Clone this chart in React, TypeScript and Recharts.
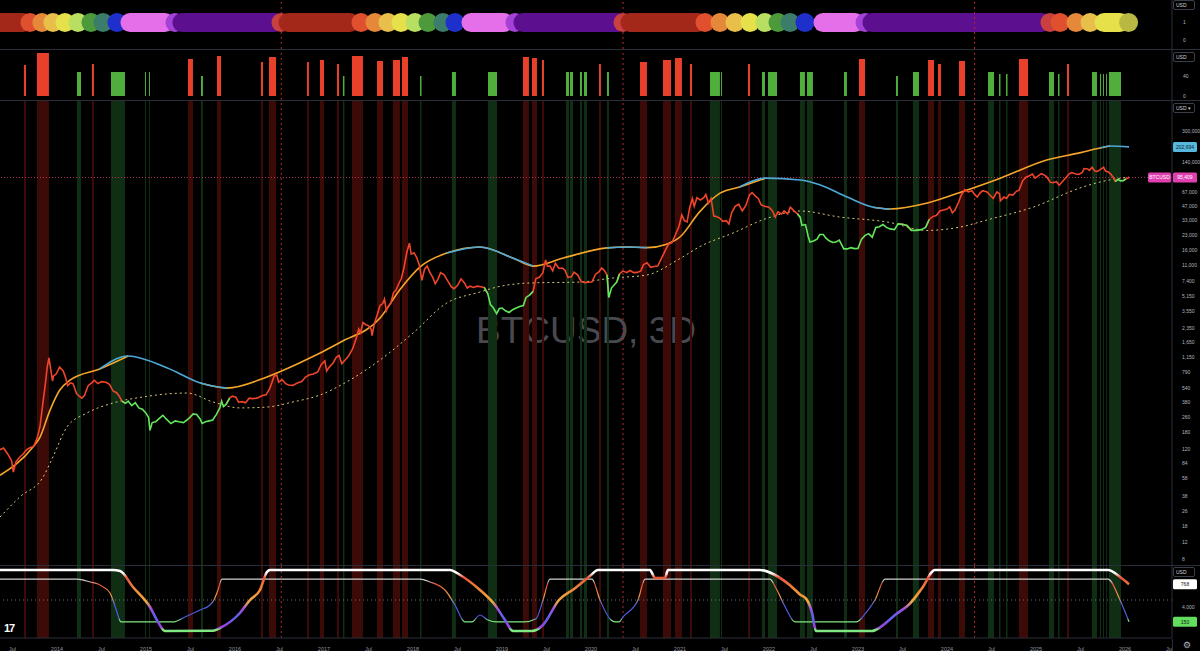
import React from "react";
import { ComposedChart, Line, XAxis, YAxis, ReferenceArea, ReferenceLine } from "recharts";

const X0 = 2013.36;
const X1 = 2026.528;
const FONT = "'Liberation Sans', Arial, sans-serif";

// BTCUSD 3D close (year, usd)
const btcClose: [number, number][] = [
  [2013.36,118],[2013.40,123],[2013.45,105],[2013.49,90],[2013.51,68],[2013.54,88],[2013.58,98],[2013.62,106],[2013.66,118],[2013.70,125],[2013.74,128],[2013.78,160],[2013.81,210],[2013.84,360],[2013.87,600],[2013.89,900],[2013.91,1130],[2013.93,850],[2013.95,640],[2013.96,720],[2013.99,760],
  [2014.03,900],[2014.07,820],[2014.10,680],[2014.12,570],[2014.15,610],[2014.18,600],[2014.22,470],[2014.25,440],[2014.28,420],[2014.31,450],[2014.35,570],[2014.39,610],[2014.42,650],[2014.46,600],[2014.50,630],[2014.55,620],[2014.59,590],[2014.63,500],[2014.67,480],[2014.70,440],[2014.73,390],[2014.77,370],[2014.80,390],[2014.84,350],[2014.88,375],[2014.92,330],[2014.96,320],
  [2015.00,290],[2015.03,260],[2015.045,190],[2015.07,230],[2015.11,235],[2015.15,255],[2015.19,275],[2015.23,250],[2015.28,225],[2015.33,240],[2015.37,235],[2015.42,230],[2015.46,245],[2015.50,265],[2015.53,285],[2015.57,280],[2015.61,250],[2015.63,225],[2015.67,235],[2015.71,240],[2015.75,245],[2015.79,280],[2015.83,330],[2015.85,390],[2015.87,340],[2015.90,360],[2015.94,420],[2015.97,440],
  [2016.01,430],[2016.04,380],[2016.08,385],[2016.12,375],[2016.16,420],[2016.20,415],[2016.25,420],[2016.30,445],[2016.35,455],[2016.39,530],[2016.44,720],[2016.47,740],[2016.49,620],[2016.53,660],[2016.57,600],[2016.60,580],[2016.65,575],[2016.70,610],[2016.75,630],[2016.79,700],[2016.83,740],[2016.88,760],[2016.93,800],[2016.97,960],
  [2017.01,1050],[2017.03,820],[2017.06,900],[2017.10,990],[2017.14,1150],[2017.17,1200],[2017.20,980],[2017.24,1080],[2017.28,1200],[2017.32,1400],[2017.36,1800],[2017.39,2300],[2017.41,2100],[2017.44,2700],[2017.47,2550],[2017.50,2500],[2017.53,2300],[2017.54,1950],[2017.57,2700],[2017.60,3300],[2017.63,4100],[2017.66,4300],[2017.68,4800],[2017.70,3600],[2017.72,4000],[2017.75,4300],[2017.78,5600],[2017.81,6000],[2017.84,7000],[2017.87,8000],[2017.90,10500],[2017.93,15000],[2017.96,19000],[2017.98,14500],
  [2018.01,15000],[2018.04,13500],[2018.07,11200],[2018.10,7600],[2018.13,10000],[2018.16,10800],[2018.19,9200],[2018.22,8300],[2018.25,7000],[2018.28,7800],[2018.31,9200],[2018.35,8700],[2018.39,7500],[2018.43,6500],[2018.46,6200],[2018.50,6700],[2018.54,7900],[2018.58,7100],[2018.61,6300],[2018.64,6600],[2018.68,6400],[2018.72,6600],[2018.76,6500],[2018.80,6400],[2018.84,5500],[2018.87,4200],[2018.90,3900],[2018.94,3350],[2018.97,3800],
  [2019.00,3850],[2019.04,3600],[2019.08,3450],[2019.12,3700],[2019.16,3850],[2019.20,4000],[2019.24,4100],[2019.27,5000],[2019.31,5300],[2019.35,5800],[2019.38,7900],[2019.42,8200],[2019.46,9200],[2019.49,12600],[2019.51,10800],[2019.54,10800],[2019.57,9600],[2019.60,11600],[2019.64,10200],[2019.68,10300],[2019.71,9700],[2019.74,8200],[2019.78,8300],[2019.81,9300],[2019.85,8700],[2019.89,7400],[2019.93,7200],[2019.97,7250],
  [2020.01,7300],[2020.05,8800],[2020.09,9400],[2020.12,10300],[2020.15,9700],[2020.18,8700],[2020.20,5000],[2020.23,6300],[2020.26,6800],[2020.29,7300],[2020.32,8900],[2020.36,9600],[2020.40,9200],[2020.44,9700],[2020.48,9200],[2020.52,9250],[2020.56,9600],[2020.59,11200],[2020.63,11700],[2020.67,10500],[2020.71,10700],[2020.75,10800],[2020.79,13000],[2020.83,15500],[2020.87,18500],[2020.91,19200],[2020.95,23500],[2020.99,29000],
  [2021.02,38000],[2021.05,33000],[2021.08,32000],[2021.11,46000],[2021.14,57000],[2021.16,47000],[2021.19,58000],[2021.23,55000],[2021.27,58500],[2021.29,63000],[2021.32,51000],[2021.35,57000],[2021.38,37000],[2021.41,36500],[2021.45,35000],[2021.48,32500],[2021.52,33000],[2021.55,30500],[2021.58,40000],[2021.62,47000],[2021.66,49500],[2021.70,42000],[2021.74,48000],[2021.78,62000],[2021.81,66000],[2021.85,60000],[2021.88,57000],[2021.91,49000],[2021.95,47000],
  [2022.00,46000],[2022.04,42000],[2022.07,36000],[2022.10,41000],[2022.14,39000],[2022.17,42000],[2022.21,39000],[2022.24,46000],[2022.28,42000],[2022.32,39000],[2022.35,36000],[2022.37,29500],[2022.41,30000],[2022.44,22500],[2022.46,19500],[2022.50,20000],[2022.54,21000],[2022.57,23500],[2022.61,23500],[2022.64,21500],[2022.68,20000],[2022.72,19300],[2022.75,19500],[2022.79,20500],[2022.84,16500],[2022.88,16500],[2022.92,17000],[2022.96,16600],
  [2023.00,16700],[2023.04,21000],[2023.08,23000],[2023.12,24000],[2023.16,22000],[2023.20,28000],[2023.24,28500],[2023.28,30000],[2023.32,28000],[2023.36,27000],[2023.41,26500],[2023.45,30500],[2023.50,30200],[2023.55,29300],[2023.60,26000],[2023.66,26000],[2023.71,26500],[2023.76,28000],[2023.80,34000],[2023.84,36500],[2023.88,37500],[2023.92,42000],[2023.96,43000],
  [2024.00,44000],[2024.03,46500],[2024.06,40000],[2024.09,43000],[2024.13,52000],[2024.16,62000],[2024.20,71000],[2024.24,67000],[2024.28,69000],[2024.31,63000],[2024.34,59000],[2024.37,65000],[2024.40,69000],[2024.45,67000],[2024.49,61000],[2024.52,57000],[2024.56,67000],[2024.59,64000],[2024.60,54000],[2024.64,59000],[2024.67,57000],[2024.70,63000],[2024.74,62000],[2024.78,68000],[2024.81,70000],[2024.85,88000],[2024.89,97000],[2024.92,99000],[2024.96,104000],[2024.99,94000],
  [2025.02,99000],[2025.06,105000],[2025.09,102000],[2025.12,97000],[2025.16,85000],[2025.19,84000],[2025.23,86000],[2025.26,79000],[2025.29,85000],[2025.33,94000],[2025.37,104000],[2025.40,108000],[2025.44,105000],[2025.48,103000],[2025.52,108000],[2025.54,119000],[2025.58,118000],[2025.60,114000],[2025.63,123000],[2025.66,112000],[2025.69,111000],[2025.72,116000],[2025.76,123000],[2025.78,112000],[2025.81,110000],[2025.84,104000],[2025.87,95000],[2025.89,87000],[2025.92,91000],[2025.95,88000],[2025.98,88500],[2026.01,92000],[2026.045,95409],
];

// periods where the price line is drawn green
const greenRanges: [number, number][] = [
  [2014.74, 2015.9], [2018.83, 2019.33], [2020.19, 2020.29], [2022.34, 2023.45], [2023.59, 2023.76], [2025.91, 2026.0],
];

// long moving average (orange rising / blue falling)
const maLine: [number, number][] = [
  [2013.36,63],[2013.73,126],[2013.81,161],[2013.92,309],[2014.03,510],[2014.15,656],[2014.48,859],[2014.80,1183],
  [2015.24,880],[2015.61,609],[2015.91,537],[2016.36,706],[2016.73,1000],[2017.18,1650],[2017.63,3010],[2017.85,6000],
  [2018.08,10600],[2018.38,14900],[2018.75,17300],[2019.12,13200],[2019.35,10800],[2019.69,13200],[2020.18,16900],
  [2020.40,17300],[2020.63,17000],[2020.85,18500],[2021.0,22100],[2021.22,41000],[2021.45,65000],[2021.67,75700],
  [2021.96,94000],[2022.35,90000],[2022.57,80000],[2022.88,59000],[2023.17,46000],[2023.36,44000],[2023.78,51000],
  [2024.22,70000],[2024.60,94000],[2025.12,147000],[2025.49,175000],[2025.72,197000],[2025.83,207000],[2026.045,202694],
];

// dashed lower band
const lowBand: [number, number][] = [
  [2013.36,22.5],[2013.584,37],[2013.843,60],[2013.955,99],[2014.112,206],[2014.337,291],[2014.629,372],[2014.966,432],
  [2015.461,476],[2015.753,382],[2016.056,330],[2016.36,337],[2016.652,382],[2016.955,453],[2017.292,656],[2017.629,1070],
  [2018.0,2080],[2018.382,4370],[2018.753,5710],[2018.944,6460],[2019.315,7130],[2019.876,7300],[2020.247,8060],
  [2020.629,8690],[2021.0,13000],[2021.225,17500],[2021.596,24400],[2021.978,35000],[2022.348,41900],[2022.798,36100],
  [2023.326,32000],[2023.775,26000],[2024.146,28200],[2024.449,33600],[2024.966,46000],[2025.494,73800],[2025.719,85500],[2026.045,96600],
];

// signal events: start, end, kind, histogram height
const events: [number, number, string, number][] = [
  [2013.629,2013.652,"r",62],[2013.775,2013.910,"r",86],[2014.225,2014.270,"g",48],[2014.393,2014.416,"r",64],
  [2014.607,2014.764,"g",48],[2014.989,2015.000,"g",48],[2015.034,2015.045,"g",48],[2015.472,2015.528,"r",74],
  [2015.618,2015.640,"g",40],[2015.798,2015.843,"r",80],[2016.292,2016.315,"r",68],[2016.382,2016.461,"r",78],
  [2016.809,2016.831,"r",68],[2016.955,2017.000,"r",72],[2017.146,2017.169,"r",64],[2017.213,2017.230,"g",40],
  [2017.315,2017.438,"r",80],[2017.596,2017.663,"r",70],[2017.775,2017.854,"r",72],[2017.876,2017.944,"r",78],
  [2018.079,2018.096,"g",40],[2018.438,2018.483,"g",48],[2018.843,2018.944,"g",48],[2019.236,2019.303,"r",78],
  [2019.337,2019.393,"r",76],[2019.449,2019.472,"r",72],[2019.719,2019.753,"g",48],[2019.764,2019.798,"g",48],
  [2019.876,2019.899,"g",48],[2019.921,2019.955,"g",48],[2020.090,2020.112,"r",64],[2020.180,2020.202,"g",48],
  [2020.551,2020.629,"r",68],[2020.809,2020.899,"r",72],[2020.944,2021.022,"r",76],[2021.112,2021.135,"r",64],
  [2021.337,2021.449,"g",48],[2021.461,2021.472,"g",48],[2021.764,2021.787,"r",64],[2021.921,2021.955,"g",48],
  [2021.989,2022.090,"g",48],[2022.348,2022.404,"g",48],[2022.427,2022.494,"g",48],[2022.843,2022.876,"g",48],
  [2023.011,2023.079,"r",74],[2023.427,2023.449,"g",40],[2023.618,2023.685,"g",48],[2023.787,2023.854,"r",72],
  [2023.899,2023.933,"r",64],[2024.135,2024.202,"r",70],[2024.461,2024.528,"g",48],[2024.584,2024.601,"g",44],
  [2024.663,2024.680,"g",44],[2024.809,2024.910,"r",74],[2025.146,2025.202,"g",48],[2025.247,2025.264,"g",44],
  [2025.348,2025.371,"r",64],[2025.629,2025.685,"g",48],[2025.719,2025.731,"g",44],[2025.753,2025.764,"g",44],
  [2025.787,2025.798,"g",44],[2025.820,2025.955,"g",48],
];

// cycle phase strip: start, end, colour
const DR = "#a3281a", OR = "#e0502e", ORG = "#e6883a", YO = "#e8bf4a", YEL = "#e6e04a", LG = "#b9df62",
  GR = "#4d9a3c", TE = "#3c7c6a", BL = "#1f2fcc", PK = "#e56fe8", VI = "#a442d8", PU = "#5c0f8e", RC = "#c94040", OL = "#b8b842";
const phases: [number, number, string][] = [
  [2013.25,2013.62,DR],[2013.697,2013.697,OR],[2013.831,2013.831,ORG],[2013.955,2013.955,YO],[2014.09,2014.09,YEL],
  [2014.236,2014.236,LG],[2014.382,2014.382,GR],[2014.517,2014.517,TE],[2014.674,2014.674,BL],[2014.82,2015.213,PK],
  [2015.326,2015.326,VI],[2015.404,2016.449,PU],[2016.517,2016.517,RC],[2016.596,2017.292,DR],
  [2017.416,2017.416,OR],[2017.573,2017.573,ORG],[2017.719,2017.719,YO],[2017.865,2017.865,YEL],[2018.022,2018.022,LG],
  [2018.169,2018.169,GR],[2018.337,2018.337,TE],[2018.472,2018.472,BL],[2018.652,2019.022,PK],[2019.146,2019.146,VI],
  [2019.236,2020.303,PU],[2020.36,2020.36,RC],[2020.438,2021.202,DR],
  [2021.281,2021.281,OR],[2021.449,2021.449,ORG],[2021.618,2021.618,YO],[2021.787,2021.787,YEL],[2021.955,2021.955,LG],
  [2022.101,2022.101,GR],[2022.236,2022.236,TE],[2022.404,2022.404,BL],[2022.607,2022.966,PK],[2023.079,2023.079,VI],
  [2023.157,2025.067,PU],[2025.157,2025.157,RC],[2025.27,2025.27,OR],[2025.449,2025.449,ORG],[2025.607,2025.607,YO],
  [2025.764,2025.944,YEL],[2026.04,2026.04,OL],
];

// oscillator pane: thick and thin lines
const oscThick: [number, number][] = [
  [2013.36,1000],[2014.629,1000],[2014.708,985],[2014.854,721],[2015.045,393],[2015.135,150],[2015.213,0],[2015.753,5],
  [2015.831,49],[2016.056,295],[2016.169,508],[2016.281,672],[2016.36,967],[2016.393,1000],[2018.416,1000],[2018.528,918],
  [2018.753,672],[2018.921,426],[2019.034,180],[2019.124,0],[2019.337,0],[2019.461,98],[2019.64,508],[2019.82,700],
  [2019.989,900],[2020.079,1000],[2020.663,1000],[2020.719,869],[2020.831,869],[2020.865,1000],[2021.899,1000],
  [2022.067,918],[2022.236,750],[2022.348,600],[2022.427,508],[2022.483,300],[2022.528,0],[2023.157,0],[2023.247,60],
  [2023.416,262],[2023.584,450],[2023.719,700],[2023.865,1000],[2025.809,1000],[2025.944,885],[2026.045,768],
];
const oscThin: [number, number][] = [
  [2013.36,852],[2014.225,852],[2014.371,803],[2014.483,754],[2014.596,623],[2014.629,508],[2014.674,311],[2014.719,148],
  [2015.303,148],[2015.438,230],[2015.607,344],[2015.719,426],[2015.764,508],[2015.809,672],[2015.854,852],[2018.079,852],
  [2018.191,803],[2018.36,672],[2018.472,426],[2018.584,148],[2018.663,148],[2018.753,262],[2018.843,180],[2018.944,148],
  [2019.247,148],[2019.382,200],[2019.461,508],[2019.539,852],[2020.011,852],[2020.101,508],[2020.225,180],[2020.27,148],
  [2020.315,148],[2020.36,230],[2020.528,508],[2020.607,852],[2022.011,852],[2022.079,700],[2022.18,400],[2022.292,148],
  [2022.978,148],[2023.09,300],[2023.191,508],[2023.303,852],[2025.809,852],[2025.944,508],[2026.045,150],
];

const halvings = [2016.52, 2020.36, 2024.31];
const priceTicks = [8, 12, 18, 26, 38, 58, 84, 120, 180, 260, 380, 540, 790, 1150, 1650, 2350, 3550, 5150, 7400, 11000, 16000, 23000, 33000, 47000, 67000, 140000, 300000];
const xTicks = [2013.5, 2014, 2014.5, 2015, 2015.5, 2016, 2016.5, 2017, 2017.5, 2018, 2018.5, 2019, 2019.5, 2020, 2020.5, 2021, 2021.5, 2022, 2022.5, 2023, 2023.5, 2024, 2024.5, 2025, 2025.5, 2026, 2026.5];
const oscTicks = [393];
const oscTickText = ["4,000"];

const RED = "#f0452b";
const GREEN = "#62e65c";
const BAND_R = "#3c0b08";
const BAND_G = "#0f2e14";
const ZERO = { top: 0, right: 0, bottom: 0, left: 0 };
const tickStyle = { fill: "#b2b5be", fontSize: 5, fontFamily: FONT };

type Pt = { t: number; v: number | null };

// split one series into two, sharing the points where the flag changes
function split(pts: [number, number][], flag: (i: number) => boolean): [Pt[], Pt[]] {
  const a: Pt[] = [];
  const b: Pt[] = [];
  pts.forEach(([t, v], i) => {
    const f = flag(i);
    const prev = i > 0 ? flag(i - 1) : f;
    const next = i < pts.length - 1 ? flag(i + 1) : f;
    a.push({ t, v: !f || !prev || !next ? v : null });
    b.push({ t, v: f || prev || next ? v : null });
  });
  return [a, b];
}

const inGreen = (t: number) => greenRanges.some(([s, e]) => t >= s && t <= e);
const [priceRed, priceGreen] = split(btcClose, (i) => inGreen(btcClose[i][0]));
const maFalling = (i: number) => {
  const j = Math.min(i, maLine.length - 2);
  return maLine[j + 1][1] < maLine[j][1];
};
const [maUp, maDown] = split(maLine, maFalling);
const lowData = lowBand.map(([t, v]) => ({ t, v }));
const thickData = oscThick.map(([t, v]) => ({ t, v }));
const thinData = oscThin.map(([t, v]) => ({ t, v }));
const stripAnchor = phases.slice(1).map(([s]) => ({ t: s, v: 1 }));
const histAnchor = events.map(([s]) => ({ t: s, v: 0 }));

const fmt = (v: number) => v.toLocaleString("en-US");

function AxisTag(props: any) {
  const { viewBox, text, bg, fg, tag } = props;
  if (!viewBox) return null;
  const x = viewBox.x + viewBox.width;
  const y = viewBox.y;
  return (
    <g fontFamily={FONT} fontSize={5}>
      {tag && (
        <>
          <rect x={x - 24} y={y - 5} width={23} height={10} rx={1.5} fill={bg} />
          <text x={x - 12.5} y={y} dy="0.36em" textAnchor="middle" fill={fg}>{tag}</text>
        </>
      )}
      <rect x={x + 1} y={y - 5} width={24} height={10} rx={1.5} fill={bg} />
      <text x={x + 13} y={y} dy="0.36em" textAnchor="middle" fill={fg}>{text}</text>
    </g>
  );
}

const pill = (color: string) => (p: any) => (
  <line x1={p.x1} y1={p.y1} x2={p.x2 + 0.01} y2={p.y2} stroke={color} strokeWidth={19} strokeLinecap="round" />
);

function UsdBox({ top, caret }: { top: number; caret?: boolean }) {
  return (
    <div style={{ position: "absolute", left: 1173, top, width: 22, height: 10, border: "1px solid #3a3e48", borderRadius: 2, boxSizing: "border-box", color: "#d1d4dc", fontSize: 5, fontFamily: FONT, lineHeight: "8px", paddingLeft: 2 }}>
      USD{caret ? " \u25BE" : ""}
    </div>
  );
}

const hx = () => <XAxis type="number" dataKey="t" domain={[X0, X1]} allowDataOverflow hide />;

const halvingLines = () =>
  halvings.map((h) => (
    <ReferenceLine key={"h" + h} x={h} stroke="#b22a2a" strokeDasharray="2 3" strokeWidth={1} />
  ));

const bandAreas = (prefix: string) =>
  events.map(([s, e, k], i) => (
    <ReferenceArea key={prefix + i} x1={s} x2={e} fill={k === "r" ? BAND_R : BAND_G} fillOpacity={1} stroke="none" ifOverflow="hidden" />
  ));

export default function App() {
  const last = btcClose[btcClose.length - 1][1];
  const maLast = maLine[maLine.length - 1][1];
  const thickLast = oscThick[oscThick.length - 1][1];
  const thinLast = oscThin[oscThin.length - 1][1];
  return (
    <div style={{ position: "absolute", left: 0, top: 0, width: 1200, height: 651, background: "#000", overflow: "hidden" }}>
      <div style={{ position: "absolute", left: 0, top: 312, width: 1172, textAlign: "center", fontFamily: FONT, fontSize: 37, lineHeight: "37px", color: "#48494f" }}>
        BTCUSD, 3D
      </div>

      {/* cycle strip */}
      <div style={{ position: "absolute", left: 0, top: 0 }}>
        <ComposedChart width={1200} height={49} margin={ZERO}>
          {hx()}
          <YAxis orientation="right" width={28} type="number" domain={[-0.472, 2.25]} ticks={[0, 1]} interval={0} tick={tickStyle} tickLine={false} axisLine={{ stroke: "#2a2e39" }} tickMargin={5} />
          <Line data={stripAnchor} dataKey="v" stroke="transparent" dot={false} activeDot={false} isAnimationActive={false} />
          {phases.map(([s, e, c], i) => (
            <ReferenceLine key={"p" + i} segment={[{ x: s, y: 1 }, { x: e, y: 1 }]} stroke={c} shape={pill(c)} ifOverflow="visible" />
          ))}
          {halvingLines()}
        </ComposedChart>
      </div>

      {/* signal histogram */}
      <div style={{ position: "absolute", left: 0, top: 50 }}>
        <ComposedChart width={1200} height={50} margin={ZERO}>
          {hx()}
          <YAxis orientation="right" width={28} type="number" domain={[-8, 92]} ticks={[0, 40]} interval={0} tick={tickStyle} tickLine={false} axisLine={{ stroke: "#2a2e39" }} tickMargin={5} />
          <Line data={histAnchor} dataKey="v" stroke="transparent" dot={false} activeDot={false} isAnimationActive={false} />
          {events.map(([s, e, k, h], i) => (
            <ReferenceArea key={"b" + i} x1={s} x2={e} y1={0} y2={h} fill={k === "r" ? "#e8402a" : "#4fae3c"} fillOpacity={1} stroke="none" ifOverflow="hidden" />
          ))}
          {halvingLines()}
        </ComposedChart>
      </div>

      {/* price pane */}
      <div style={{ position: "absolute", left: 0, top: 100 }}>
        <ComposedChart width={1200} height={465} margin={ZERO}>
          {hx()}
          <YAxis orientation="right" width={28} type="number" scale="log" domain={[6.92, 642900]} allowDataOverflow ticks={priceTicks} interval={0} tickFormatter={fmt} tick={tickStyle} tickLine={false} axisLine={{ stroke: "#2a2e39" }} tickMargin={4} />
          {bandAreas("m")}
          {halvingLines()}
          <ReferenceLine y={last} stroke="#d83a72" strokeDasharray="1 2" strokeOpacity={0.8} label={<AxisTag text={fmt(last)} tag="BTCUSD" bg="#e13fb0" fg="#ffffff" />} />
          <ReferenceLine y={maLast} stroke="none" label={<AxisTag text={fmt(maLast)} bg="#55b8dc" fg="#0c2230" />} />
          <Line data={lowData} dataKey="v" type="monotone" stroke="#d9c97c" strokeWidth={1} strokeDasharray="2 3" dot={false} isAnimationActive={false} />
          <Line data={maUp} dataKey="v" type="monotone" stroke="#f5a62a" strokeWidth={1.6} dot={false} isAnimationActive={false} />
          <Line data={maDown} dataKey="v" type="monotone" stroke="#4fa9d8" strokeWidth={1.6} dot={false} isAnimationActive={false} />
          <Line data={priceRed} dataKey="v" type="linear" stroke={RED} strokeWidth={1.6} dot={false} isAnimationActive={false} />
          <Line data={priceGreen} dataKey="v" type="linear" stroke={GREEN} strokeWidth={1.6} dot={false} isAnimationActive={false} />
        </ComposedChart>
      </div>

      {/* oscillator pane */}
      <div style={{ position: "absolute", left: 0, top: 565 }}>
        <ComposedChart width={1200} height={86} margin={ZERO}>
          <defs>
            <linearGradient id="gThick" x1="0" y1="0" x2="0" y2="1">
              <stop offset="0" stopColor="#ffffff" />
              <stop offset="0.05" stopColor="#ffffff" />
              <stop offset="0.12" stopColor="#e8563a" />
              <stop offset="0.35" stopColor="#ef8e3a" />
              <stop offset="0.52" stopColor="#f0a940" />
              <stop offset="0.64" stopColor="#a04ee0" />
              <stop offset="0.78" stopColor="#5a62e6" />
              <stop offset="0.94" stopColor="#a040e0" />
              <stop offset="0.98" stopColor="#80e880" />
              <stop offset="1" stopColor="#80e880" />
            </linearGradient>
            <linearGradient id="gThin" x1="0" y1="0" x2="0" y2="1">
              <stop offset="0" stopColor="#cfcfcf" />
              <stop offset="0.04" stopColor="#cfcfcf" />
              <stop offset="0.12" stopColor="#e05040" />
              <stop offset="0.4" stopColor="#f0a040" />
              <stop offset="0.6" stopColor="#5060e0" />
              <stop offset="0.9" stopColor="#4a58dc" />
              <stop offset="0.97" stopColor="#80e880" />
              <stop offset="1" stopColor="#80e880" />
            </linearGradient>
          </defs>
          <XAxis type="number" dataKey="t" domain={[X0, X1]} allowDataOverflow ticks={xTicks} interval={0} height={13}
            tickFormatter={(v: number) => (Number.isInteger(v) ? String(v) : "Jul")}
            tick={{ fill: "#9598a1", fontSize: 5.5, fontFamily: FONT }} tickLine={false} axisLine={{ stroke: "#2a2e39" }} tickMargin={3} />
          <YAxis orientation="right" width={28} type="number" domain={[-115, 1082]} allowDataOverflow ticks={oscTicks} interval={0}
            tickFormatter={(v: number) => oscTickText[oscTicks.indexOf(v)]} tick={tickStyle} tickLine={false} axisLine={{ stroke: "#2a2e39" }} tickMargin={4} />
          {bandAreas("o")}
          {halvingLines()}
          <ReferenceLine y={508} stroke="#6a6d78" strokeDasharray="1 3" />
          <ReferenceLine y={thickLast} stroke="none" label={<AxisTag text={String(thickLast)} bg="#ffffff" fg="#111111" />} />
          <ReferenceLine y={thinLast} stroke="none" label={<AxisTag text={String(thinLast)} bg="#62dd5e" fg="#111111" />} />
          <Line data={thinData} dataKey="v" type="monotone" stroke="url(#gThin)" strokeWidth={1.2} dot={false} isAnimationActive={false} />
          <Line data={thickData} dataKey="v" type="monotone" stroke="url(#gThick)" strokeWidth={2.6} dot={false} isAnimationActive={false} />
        </ComposedChart>
      </div>

      {/* pane separators */}
      {[49, 100, 565].map((y) => (
        <div key={y} style={{ position: "absolute", left: 0, top: y, width: 1200, height: 1, background: "#2a2e39" }} />
      ))}
      <UsdBox top={0} />
      <UsdBox top={52} />
      <UsdBox top={103} caret />
      <UsdBox top={567} />
      <div style={{ position: "absolute", left: 1172, top: 639, width: 28, height: 12, background: "#000", borderLeft: "1px solid #2a2e39", color: "#b2b5be", fontSize: 9, fontFamily: "DejaVu Sans", textAlign: "center", lineHeight: "12px" }}>
        {"\u2699"}
      </div>
      <div style={{ position: "absolute", left: 4, top: 622, color: "#ffffff", fontFamily: FONT, fontWeight: 900, fontSize: 11, letterSpacing: -1 }}>17</div>
    </div>
  );
}
